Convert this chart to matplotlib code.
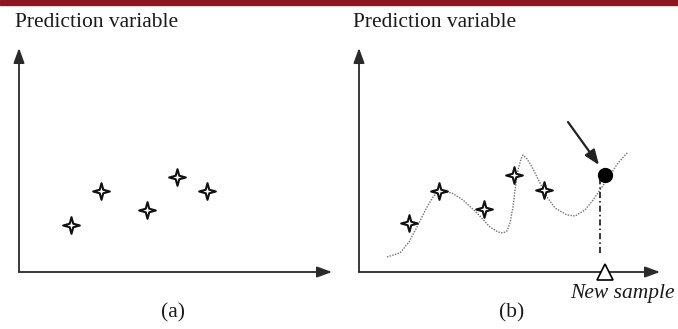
"""
Two sketch panels: training samples (a) and a fitted curve used to
predict a new sample (b).
"""
import matplotlib
matplotlib.use("Agg")
import matplotlib.pyplot as plt
from matplotlib.patches import Rectangle
from matplotlib.path import Path
import numpy as np

#########################################################
# Data (units = pixels from origin)
#########################################################

# panel (a) samples
a_x = [52, 82, 128, 158, 188]
a_y = [47, 81, 62, 95, 81]

# panel (b) samples
b_x = [50, 80, 125, 155, 185]
b_y = [49, 81, 63, 97, 82]

# fitted curve in panel (b)
curve_x = [28, 41, 50, 58, 68, 74, 79, 86, 93, 104, 118, 131, 139, 144,
           148, 151, 154, 156, 159, 162, 164, 168, 173, 181, 188, 196,
           208, 216, 226, 234, 241, 251, 259, 269]
curve_y = [15, 19, 30, 45, 65, 75, 80, 80, 79, 72, 59, 45, 40, 39,
           41, 49, 65, 82, 102, 113, 117, 113, 105, 89, 75, 64,
           57, 56, 62, 72, 82, 97, 109, 120]

# new sample and its prediction
new_x = 246
new_pred = 97
guide_x = 241
guide_y = [19, 92]
arrow_from = (209, 150)
arrow_to = (240, 107)

# axis extents
a_xmax, b_xmax, ymax = 313, 301, 224

#########################################################
# Style
#########################################################
TEXT = "#1a1a1a"
AXIS = "#2a2a2a"
CURVE = "#707070"
BAR = "#8e1520"
FONT = "Liberation Serif"
FS = 15.5

# 4-pointed star marker
ang = np.arange(8) * np.pi / 4 + np.pi / 2
rad = np.where(np.arange(8) % 2 == 0, 1.0, 0.3)
star = Path(np.column_stack([rad * np.cos(ang), rad * np.sin(ang)]).tolist()
            + [[0, 1]], closed=True)

W, H = 678, 329
fig = plt.figure(figsize=(W / 100, H / 100), dpi=100)
fig.patch.set_facecolor("white")
fig.patches.append(Rectangle((0, 1 - 5 / H), 1, 5 / H, transform=fig.transFigure,
                             color=BAR, zorder=0))


def setup(ax, xmax):
    ax.set_xlim(0, xmax)
    ax.set_ylim(0, ymax)
    ax.axis("off")
    style = "-|>,head_length=0.9,head_width=0.33"
    for end in [(xmax, 0), (0, ymax)]:
        ax.annotate("", xy=end, xytext=(0, 0),
                    arrowprops=dict(arrowstyle=style, color=AXIS, lw=1.3,
                                    mutation_scale=10, shrinkA=0, shrinkB=0),
                    annotation_clip=False)


#########################################################
# Panel (a)
#########################################################
ax1 = fig.add_axes([19 / W, 57 / H, a_xmax / W, ymax / H])
setup(ax1, a_xmax)
ax1.plot(a_x, a_y, linestyle="none", marker=star, ms=12, mfc="white",
         mec="#111111", mew=1.5, zorder=3)

#########################################################
# Panel (b)
#########################################################
ax2 = fig.add_axes([359 / W, 57 / H, b_xmax / W, ymax / H])
setup(ax2, b_xmax)
ax2.plot(curve_x, curve_y, color=CURVE, lw=1.0, linestyle=(0, (1, 1)), zorder=2)
ax2.plot(b_x, b_y, linestyle="none", marker=star, ms=12, mfc="white",
         mec="#111111", mew=1.5, zorder=3)
ax2.plot([guide_x, guide_x], guide_y, color="black", lw=1.1,
         linestyle=(0, (4, 2, 1, 2)), zorder=2)
ax2.plot([new_x], [new_pred], "o", color="black", ms=10, zorder=4)
ax2.plot([new_x], [0], marker="^", ms=11, mfc="white", mec="black",
         mew=1.2, clip_on=False, zorder=4)
ax2.annotate("", xy=arrow_to, xytext=arrow_from,
             arrowprops=dict(arrowstyle="-|>,head_length=0.9,head_width=0.35",
                             color="#222222", lw=1.6, mutation_scale=10,
                             shrinkA=0, shrinkB=0))

#########################################################
# Texts
#########################################################
for x0, lab in [(15, "Prediction variable"), (353, "Prediction variable")]:
    fig.text(x0 / W, 1 - 27 / H, lab, fontsize=FS, family=FONT, color=TEXT,
             ha="left", va="baseline")
fig.text(173 / W, 1 - 313 / H, "(a)", fontsize=FS, family=FONT, color=TEXT,
         ha="center", va="center")
fig.text(512 / W, 1 - 313 / H, "(b)", fontsize=FS, family=FONT, color=TEXT,
         ha="center", va="center")
fig.text(570 / W, 1 - 298 / H, "New sample", fontsize=FS, family=FONT,
         style="italic", color=TEXT, ha="left", va="baseline")

fig.savefig("out.png", dpi=100, facecolor="white")
